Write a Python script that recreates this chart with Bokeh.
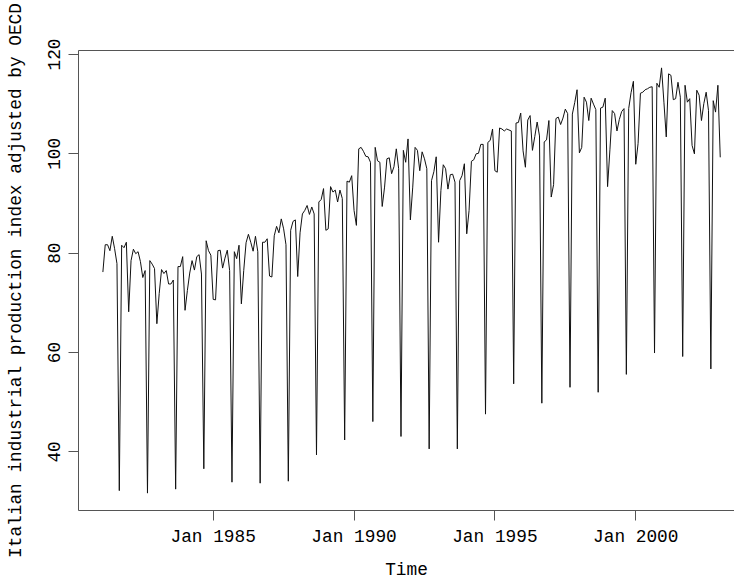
from bokeh.plotting import figure
from bokeh.models import FixedTicker, LinearAxis, Range1d
from bokeh.embed import file_html
from bokeh.resources import INLINE

# Monthly index values, Jan..Dec of each year
v1981 = [76.2, 81.7, 81.7, 80.5, 83.4, 80.9, 77.9, 32.2, 81.6, 81.1, 82.2, 68.2]
v1982 = [78.5, 80.8, 79.9, 80.3, 78.3, 75.1, 76.5, 31.7, 78.5, 77.8, 76.9, 65.8]
v1983 = [71.9, 76.7, 75.9, 76.5, 73.8, 73.8, 74.6, 32.5, 77.3, 77.3, 79.3, 68.5]
v1984 = [72.5, 76.0, 78.5, 76.6, 79.3, 79.7, 75.8, 36.6, 82.5, 80.5, 79.6, 70.7]
v1985 = [70.6, 80.5, 80.6, 77.0, 79.0, 80.6, 76.5, 33.9, 80.3, 78.9, 81.6, 69.8]
v1986 = [76.5, 82.1, 83.8, 82.2, 80.4, 83.4, 80.3, 33.7, 82.2, 82.2, 82.9, 75.4]
v1987 = [75.2, 83.5, 85.4, 84.1, 86.9, 84.9, 81.7, 34.1, 84.6, 86.4, 86.7, 75.3]
v1988 = [84.1, 87.9, 88.6, 89.6, 87.8, 89.3, 87.9, 39.4, 90.3, 90.8, 93.0, 84.6]
v1989 = [84.9, 93.4, 92.3, 92.7, 90.3, 92.7, 91.0, 42.4, 94.5, 94.3, 95.6, 88.6]
v1990 = [85.6, 101.0, 101.3, 100.5, 99.5, 99.4, 98.3, 46.1, 101.3, 98.6, 98.3, 89.4]
v1991 = [93.3, 99.0, 99.2, 96.0, 97.4, 101.0, 97.0, 43.1, 100.7, 98.3, 103.0, 86.7]
v1992 = [93.3, 101.3, 100.7, 96.6, 100.4, 99.0, 97.0, 40.6, 94.6, 96.4, 99.4, 82.2]
v1993 = [92.6, 97.8, 97.0, 92.9, 95.8, 95.9, 94.3, 40.6, 94.6, 95.6, 98.0, 83.9]
v1994 = [88.6, 98.5, 98.8, 100.0, 100.1, 101.9, 101.9, 47.6, 102.3, 102.7, 105.0, 96.6]
v1995 = [96.3, 105.2, 105.0, 104.6, 105.0, 104.8, 104.6, 53.7, 106.2, 106.3, 108.2, 100.6]
v1996 = [97.3, 106.8, 107.7, 100.7, 103.5, 106.4, 103.6, 49.8, 102.4, 102.8, 106.7, 91.3]
v1997 = [93.8, 107.1, 107.4, 105.9, 107.2, 109.0, 108.1, 53.0, 108.0, 110.3, 112.9, 100.2]
v1998 = [101.3, 111.4, 110.4, 106.7, 111.2, 110.0, 108.9, 52.0, 109.2, 109.4, 111.2, 93.4]
v1999 = [100.8, 108.7, 108.1, 104.6, 106.9, 108.5, 109.1, 55.6, 109.1, 112.3, 114.6, 97.9]
v2000 = [102.1, 112.2, 112.4, 112.9, 113.1, 113.4, 113.5, 59.9, 114.2, 113.4, 117.3, 110.4]
v2001 = [103.4, 116.1, 115.8, 110.9, 111.1, 114.4, 111.4, 59.2, 113.8, 110.4, 111.1, 101.7]
v2002 = [100.0, 112.8, 111.8, 106.7, 110.1, 112.4, 108.7, 56.7, 110.7, 108.4, 113.8, 99.3]

years = list(range(1981, 2003))
yearly = [v1981, v1982, v1983, v1984, v1985, v1986, v1987, v1988, v1989, v1990, v1991,
          v1992, v1993, v1994, v1995, v1996, v1997, v1998, v1999, v2000, v2001, v2002]

tick_years = [1985, 1990, 1995, 2000]
tick_labels = ["Jan 1985", "Jan 1990", "Jan 1995", "Jan 2000"]
y_ticks = [40, 60, 80, 100, 120]
x_title = "Time"
y_title = "Italian industrial production index adjusted by OECD"

xs, ys = [], []
for yr, vals in zip(years, yearly):
    for m, v in enumerate(vals):
        xs.append(yr + (m + 1) / 12.0)
        ys.append(v)

FONT = "Liberation Mono"
FS = "17.8px"
BOX = "#555555"

p = figure(width=734, height=582, output_backend="svg", toolbar_location=None,
           x_range=Range1d(1980.218, 2003.506), y_range=Range1d(28.2, 120.8),
           min_border_left=78, min_border_right=0, min_border_top=50, min_border_bottom=72)
p.grid.visible = False
p.outline_line_color = None
p.background_fill_color = "white"
p.border_fill_color = "white"

p.line(xs, ys, line_color="#111111", line_width=1)

for ax in (p.xaxis[0], p.yaxis[0]):
    ax.axis_line_color = BOX
    ax.major_tick_line_color = BOX
    ax.minor_tick_line_color = None
    ax.major_tick_out = 10
    ax.major_tick_in = 0
    ax.major_label_text_font = FONT
    ax.major_label_text_font_size = FS
    ax.major_label_text_color = "black"
    ax.axis_label_text_font = FONT
    ax.axis_label_text_font_size = FS
    ax.axis_label_text_font_style = "normal"
    ax.axis_label_text_color = "black"

p.xaxis.ticker = FixedTicker(ticks=tick_years)
p.xaxis.major_label_overrides = {t: l for t, l in zip(tick_years, tick_labels)}
p.xaxis.major_label_standoff = 6
p.xaxis.axis_label = x_title
p.xaxis.axis_label_standoff = 10

p.yaxis.ticker = FixedTicker(ticks=y_ticks)
p.yaxis.major_label_orientation = "vertical"
p.yaxis.major_label_standoff = 8
p.yaxis.axis_label = y_title
p.yaxis.axis_label_standoff = 20

top = LinearAxis(ticker=FixedTicker(ticks=[]), axis_line_color=BOX,
                 major_tick_line_color=None, minor_tick_line_color=None,
                 major_label_text_font_size="0px")
p.add_layout(top, "above")

open("out.html", "w").write(file_html(p, INLINE))
